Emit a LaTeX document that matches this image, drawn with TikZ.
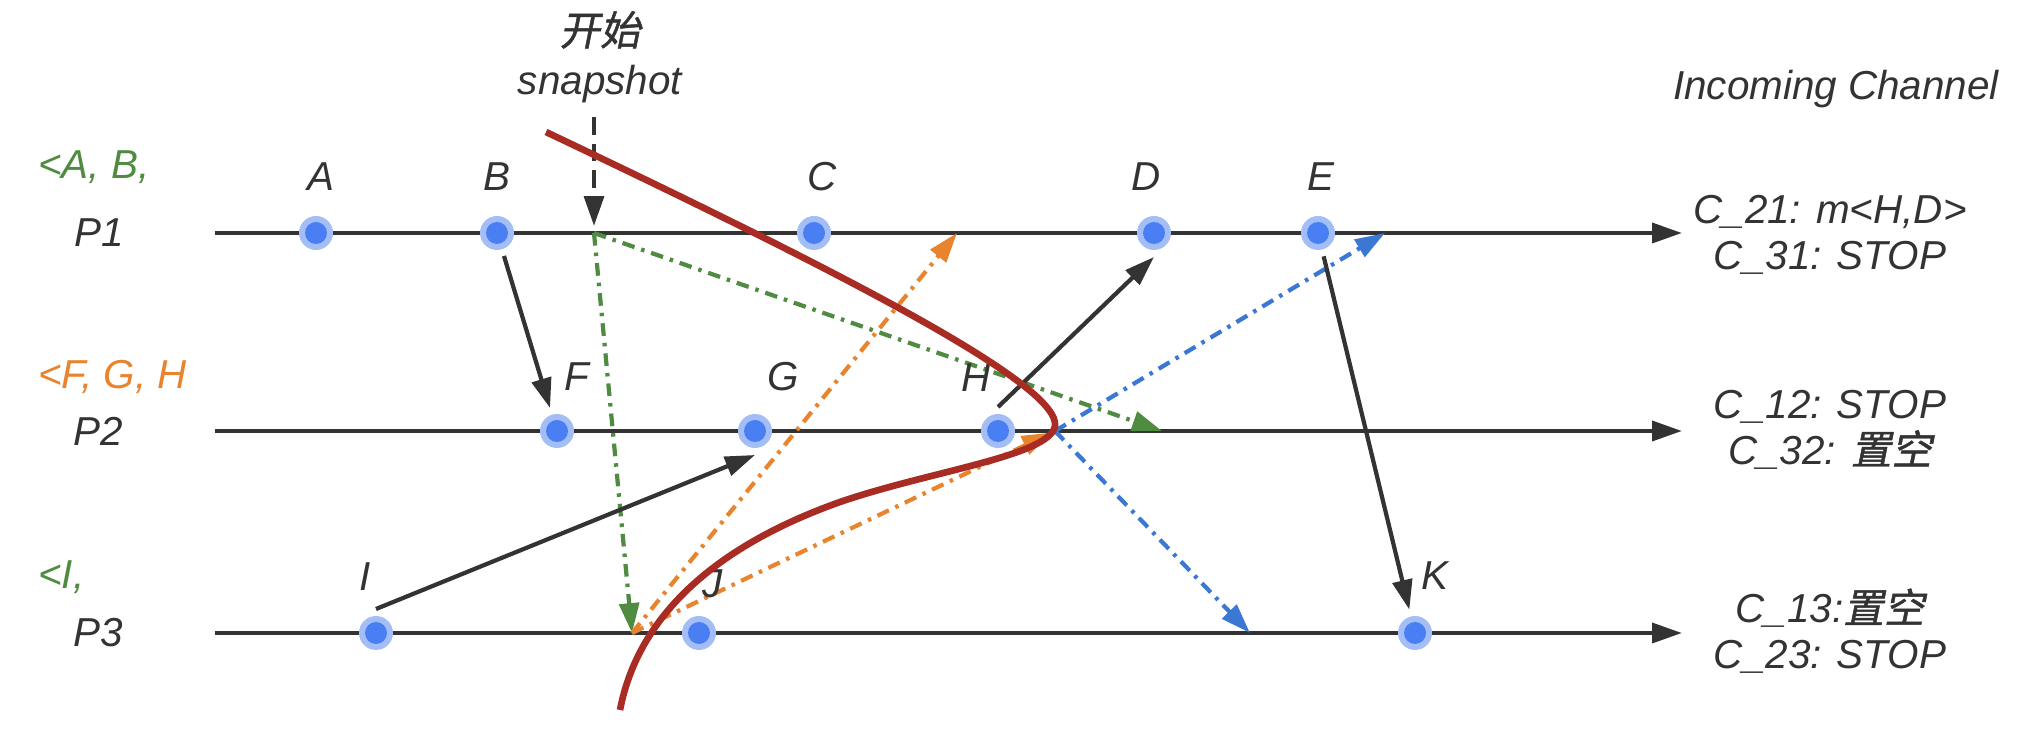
\documentclass[tikz,border=0pt]{standalone}
\usepackage{fontspec}
\setmainfont{Liberation Sans}
\newfontfamily\cjk[FakeSlant=0.2,FakeBold=1.2]{Noto Sans CJK SC}
\usetikzlibrary{arrows.meta}
\definecolor{TxtGray}{RGB}{51,51,51}
\definecolor{MarkGreen}{RGB}{79,139,64}
\definecolor{MarkOrange}{RGB}{232,132,46}
\definecolor{MarkBlue}{RGB}{58,120,212}
\definecolor{CutRed}{RGB}{168,44,36}
\definecolor{DotOut}{RGB}{163,189,247}
\definecolor{DotIn}{RGB}{74,127,243}

\tikzset{
	txt/.style={text=TxtGray, font=\fontsize{11.5}{13}\selectfont\itshape, inner sep=1pt},
	ev/.style={circle, fill=DotOut, minimum size=0.34cm, inner sep=0pt, outer sep=0.07cm,
		path picture={\fill[DotIn] (path picture bounding box.center) circle (0.11cm);}},
	tip/.style={-{Triangle[length=8.5pt,width=5.6pt]}},
	axis/.style={draw=TxtGray, line width=1.25pt, tip},
	msg/.style={draw=TxtGray, line width=1.2pt, tip},
	marker/.style={line width=1.2pt, dash pattern=on 3.6pt off 2pt on 1pt off 2pt, tip},
	cut/.style={draw=CutRed, line width=1.9pt}
}

\begin{document}
\begin{tikzpicture}
	\useasboundingbox (0,0) rectangle (20.40,7.36);
	
	% process lines
	\coordinate (p1a) at (2.15,5.03); \coordinate (p1b) at (16.82,5.03);
	\coordinate (p2a) at (2.15,3.05); \coordinate (p2b) at (16.82,3.05);
	\coordinate (p3a) at (2.15,1.03); \coordinate (p3b) at (16.82,1.03);
	\draw[axis] (p1a)--(p1b);
	\draw[axis] (p2a)--(p2b);
	\draw[axis] (p3a)--(p3b);
	
	\node[txt] (P1) at (0.99,5.03) {P1};
	\node[txt] (P2) at (0.98,3.05) {P2};
	\node[txt] (P3) at (0.98,1.03) {P3};
	\node[txt,anchor=west,text=MarkGreen] (rec1) at (0.34,5.69) {<A, B,};
	\node[txt,anchor=west,text=MarkOrange] (rec2) at (0.34,3.59) {<F, G, H};
	\node[txt,anchor=west,text=MarkGreen] (rec3) at (0.34,1.59) {<I,};
	
	% snapshot start
	\node[txt,align=center] (start) at (6.0,6.79) {{\cjk 开始}\\[1pt]snapshot};
	\coordinate (s1) at (5.94,5.03);
	\coordinate (s2) at (10.55,3.05);
	\coordinate (s3) at (6.32,1.03);
	\draw[draw=TxtGray,line width=1.2pt,dash pattern=on 5pt off 2.6pt,tip,shorten >=2pt]
		(5.94,6.19)--(s1);
	
	% marker messages
	\coordinate (g2) at (11.62,3.05);
	\coordinate (o1) at (9.57,5.03);
	\coordinate (b1) at (13.85,5.03);
	\coordinate (b3) at (12.50,1.03);
	\draw[marker,MarkGreen] (s1)--(s3);
	\draw[marker,MarkGreen] (s1)--(g2);
	\draw[marker,MarkOrange] (s3)--(o1);
	\draw[marker,MarkOrange,shorten >=1pt] (s3)--(s2);
	\draw[marker,MarkBlue] (s2)--(b1);
	\draw[marker,MarkBlue] (s2)--(b3);
	
	% events
	\node[ev] (A) at (3.16,5.03) {};
	\node[ev] (B) at (4.97,5.03) {};
	\node[ev] (C) at (8.14,5.03) {};
	\node[ev] (D) at (11.54,5.03) {};
	\node[ev] (E) at (13.18,5.03) {};
	\node[ev] (F) at (5.57,3.05) {};
	\node[ev] (G) at (7.55,3.05) {};
	\node[ev] (H) at (9.98,3.05) {};
	\node[ev] (I) at (3.76,1.03) {};
	\node[ev] (J) at (6.99,1.03) {};
	\node[ev] (K) at (14.15,1.03) {};
	
	\node[txt] (lA) at (3.21,5.59) {A};
	\node[txt] (lB) at (4.97,5.59) {B};
	\node[txt] (lC) at (8.22,5.59) {C};
	\node[txt] (lD) at (11.46,5.59) {D};
	\node[txt] (lE) at (13.21,5.59) {E};
	\node[txt] (lF) at (5.77,3.59) {F};
	\node[txt] (lG) at (7.83,3.59) {G};
	\node[txt] (lH) at (9.76,3.58) {H};
	\node[txt] (lI) at (3.65,1.59) {I};
	\node[txt] (lJ) at (7.13,1.52) {J};
	\node[txt] (lK) at (14.35,1.60) {K};
	
	% normal messages
	\draw[msg] (B)--(F);
	\draw[msg] (I.north)--(G.south);
	\draw[msg] (H.north)--(D.south);
	\draw[msg] (E)--(K);
	
	% cut line
	\draw[cut] (5.46,6.04) .. controls (8.6,4.55) and (10.6,3.5) .. (10.55,3.1)
		.. controls (10.5,2.8) and (9.3,2.65) .. (8.4,2.34)
		.. controls (7.3,1.95) and (6.4,1.3) .. (6.2,0.26);
	
	% channel states
	\node[txt] (inc) at (18.36,6.47) {Incoming Channel};
	\node[txt,align=center] (ch1) at (18.30,5.01) {C\_21: m<H,D>\\C\_31: STOP};
	\node[txt,align=center] (ch2) at (18.30,3.06) {C\_12: STOP\\C\_32: {\cjk 置空}};
	\node[txt,align=center] (ch3) at (18.30,1.05) {C\_13:{\cjk 置空}\\C\_23: STOP};
\end{tikzpicture}
\end{document}
